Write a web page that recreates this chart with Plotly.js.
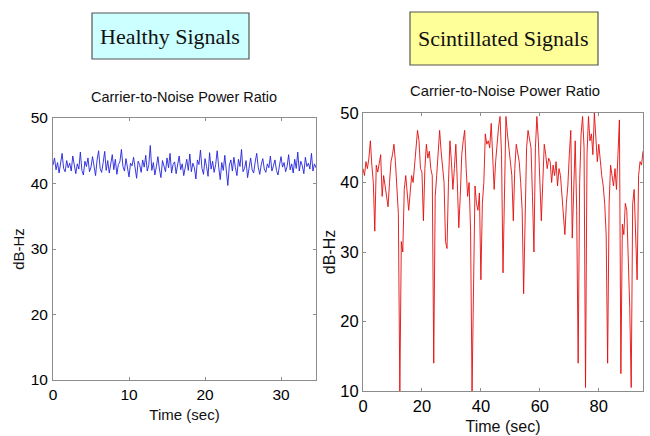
<!DOCTYPE html>
<html>
<head>
<meta charset="utf-8">
<script src="https://cdn.plot.ly/plotly-3.0.1.min.js"></script>
<style>html,body{margin:0;padding:0;background:#fff;}#chart{width:650px;height:436px;}</style>
</head>
<body>
<div id="chart"></div>
<script>
// Healthy signal: C/N0 (dB-Hz) sampled every 0.2 s from 0 to 34.6 s
const healthyStep = 0.2;
const healthyCN0 = [
  42.8, 43.9, 42.1, 43.2, 41.6, 42.9, 44.6, 42.3, 41.8, 43.5,
  42.4, 43.1, 41.9, 44.2, 42.7, 41.5, 43.0, 42.2, 44.8, 42.0,
  41.3, 43.4, 42.6, 43.9, 41.8, 42.5, 44.1, 42.9, 41.2, 43.6,
  45.0, 42.3, 41.7, 43.2, 44.9, 42.0, 43.5, 41.6, 42.8, 44.4,
  42.1, 43.7, 41.4, 42.9, 43.3, 45.2, 42.6, 41.9, 43.8, 42.4,
  41.0, 43.1, 42.7, 44.0, 42.2, 40.8, 43.4, 42.9, 41.7, 43.6,
  42.5, 44.3, 41.9, 42.8, 45.8, 42.0, 43.2, 41.3, 42.6, 44.1,
  42.2, 40.9, 43.5, 42.7, 41.8, 43.9, 42.4, 44.6, 41.6, 42.9,
  43.3, 41.5, 42.8, 44.2, 42.1, 43.0, 41.2, 42.6, 43.7, 42.0,
  44.5, 41.8, 43.1, 42.4, 40.7, 43.6, 42.9, 45.1, 42.3, 41.4,
  43.8, 42.6, 41.1, 44.7, 42.2, 43.4, 41.7, 42.9, 45.0, 42.5,
  40.6, 43.2, 42.0, 44.3, 41.5, 39.7, 42.8, 43.6, 41.9, 44.0,
  42.4, 41.2, 43.7, 42.6, 45.2, 41.8, 42.3, 43.5, 40.9, 42.7,
  43.9, 42.1, 41.6, 43.3, 44.6, 42.5, 41.4, 42.9, 43.8, 42.2,
  41.7, 43.0, 42.4, 44.2, 41.9, 42.7, 43.6, 42.0, 41.3, 42.8,
  44.1, 42.5, 43.2, 41.8, 42.6, 44.4, 42.1, 43.0, 41.6, 43.7,
  42.3, 44.8, 41.9, 43.4, 42.7, 41.5, 44.0, 42.6, 43.1, 42.2,
  44.6, 41.9, 43.0, 42.4
];

// Scintillated signal: C/N0 (dB-Hz) sampled every 0.5 s from 0 to 95 s
const scintStep = 0.5;
const scintCN0 = [
  42, 41, 43, 42, 43.5, 46, 42.5, 40, 33, 42.5,
  41.5, 43, 44, 38, 41, 39.5, 38, 36.5, 40, 43,
  44, 45.5, 43, 38.5, 35.5, 10, 31.5, 30, 39, 41,
  38, 36, 38.5, 41, 40, 43, 45, 47.5, 46, 42,
  41.5, 34.5, 42, 45.5, 43.5, 44.5, 42, 41, 14, 38,
  41, 44, 47.5, 44.5, 42.5, 40, 31.5, 30.5, 40, 46,
  43, 39, 42, 45.5, 40, 33.5, 38, 44, 46, 47.5,
  42, 38, 40, 33, 10, 22, 39.5, 37, 36, 38.5,
  26, 37, 40, 47, 45.5, 46, 45, 48.5, 44, 39,
  43, 46, 48, 49.5, 44, 27, 42, 49.5, 47, 45,
  43, 41, 34.5, 42, 45.5, 44, 43, 40, 36, 24,
  38, 45, 47.5, 46, 45, 38, 30, 45, 49.5, 46,
  41, 34.5, 40, 45.5, 44, 42, 43.5, 43, 40, 42.5,
  41, 43, 39.5, 42, 41, 38, 36, 32.5, 37, 39.5,
  44, 47.5, 32, 41, 46, 36, 14, 40, 47, 49.5,
  45, 10.5, 44, 49.5, 46, 47, 44, 50, 46, 43,
  45.5, 43, 41, 39.5, 37, 32.5, 14, 37, 42.5, 41,
  39.5, 42, 39, 44, 49, 12.5, 34, 32.5, 37, 36,
  30, 22, 10.5, 37, 39, 33, 26, 41, 43, 42.5,
  44.5
];

const titles = ["Healthy Signals", "Scintillated Signals"];
const subTitle = "Carrier-to-Noise Power Ratio";
const xTitle = "Time (sec)";
const yTitle = "dB-Hz";
const yTicks = [10, 20, 30, 40, 50];
const xTicksLeft = [0, 10, 20, 30];
const xTicksRight = [0, 20, 40, 60, 80];

const healthyTime = healthyCN0.map((_, i) => +(i * healthyStep).toFixed(2));
const scintTime = scintCN0.map((_, i) => +(i * scintStep).toFixed(2));

const traces = [
  {x: healthyTime, y: healthyCN0, type: 'scatter', mode: 'lines',
   line: {color: 'rgb(35,35,220)', width: 0.9}, xaxis: 'x', yaxis: 'y', showlegend: false},
  {x: scintTime, y: scintCN0, type: 'scatter', mode: 'lines',
   line: {color: 'rgb(228,12,12)', width: 0.9}, xaxis: 'x2', yaxis: 'y2', showlegend: false}
];

const axBase = {
  showgrid: false, zeroline: false, showline: true, mirror: 'ticks',
  linecolor: '#8c8c8c', linewidth: 1, ticks: 'inside', ticklen: 3, tickcolor: '#8c8c8c',
  automargin: false, fixedrange: true
};
const tickFontL = {family: 'Liberation Sans, Arial, sans-serif', size: 15.5, color: '#000'};
const tickFontR = {family: 'Liberation Sans, Arial, sans-serif', size: 16.5, color: '#000'};
const titleFont = {family: 'Liberation Sans, Arial, sans-serif', size: 15, color: '#111'};

const layout = {
  width: 650, height: 436,
  margin: {l: 0, r: 0, t: 0, b: 0},
  paper_bgcolor: '#fff', plot_bgcolor: '#fff',
  showlegend: false,
  xaxis: Object.assign({}, axBase, {domain: [53/650, 316/650], range: [0, 34.6],
    tickvals: xTicksLeft, tickfont: tickFontL, anchor: 'y',
    title: {text: xTitle, font: titleFont, standoff: 7}}),
  yaxis: Object.assign({}, axBase, {domain: [1 - 380/436, 1 - 118/436], range: [10, 50],
    tickvals: yTicks, tickfont: tickFontL, anchor: 'x', ticklabelstandoff: 1,
    title: {text: yTitle, font: titleFont, standoff: 2}}),
  xaxis2: Object.assign({}, axBase, {domain: [363/650, 643/650], range: [0, 95],
    tickvals: xTicksRight, tickfont: tickFontR, anchor: 'y2',
    title: {text: xTitle, font: {family: titleFont.family, size: 16, color: '#111'}, standoff: 7}}),
  yaxis2: Object.assign({}, axBase, {domain: [1 - 391/436, 1 - 113/436], range: [10, 50],
    tickvals: yTicks, tickfont: tickFontR, anchor: 'x2', ticklabelstandoff: 0,
    title: {text: yTitle, font: {family: titleFont.family, size: 16, color: '#111'}, standoff: 0}}),
  shapes: [
    {type: 'rect', xref: 'paper', yref: 'paper', x0: 92/650, x1: 249/650, y0: 1 - 59/436, y1: 1 - 13/436,
     fillcolor: '#ccffff', line: {color: '#555', width: 1.2}, layer: 'below'},
    {type: 'rect', xref: 'paper', yref: 'paper', x0: 410/650, x1: 598/650, y0: 1 - 65/436, y1: 1 - 12/436,
     fillcolor: '#ffff99', line: {color: '#555', width: 1.2}, layer: 'below'}
  ],
  annotations: [
    {text: titles[0], xref: 'paper', yref: 'paper', x: 170/650, y: 1 - 37/436, showarrow: false,
     xanchor: 'center', yanchor: 'middle', font: {family: 'Liberation Serif, Times New Roman, serif', size: 22, color: '#111'}},
    {text: titles[1], xref: 'paper', yref: 'paper', x: 504/650, y: 1 - 39/436, showarrow: false,
     xanchor: 'center', yanchor: 'middle', font: {family: 'Liberation Serif, Times New Roman, serif', size: 22, color: '#111'}},
    {text: subTitle, xref: 'paper', yref: 'paper', x: 184/650, y: 1 - 97/436, showarrow: false,
     xanchor: 'center', yanchor: 'middle', font: {family: 'Liberation Sans, Arial, sans-serif', size: 14.5, color: '#111'}},
    {text: subTitle, xref: 'paper', yref: 'paper', x: 505/650, y: 1 - 91/436, showarrow: false,
     xanchor: 'center', yanchor: 'middle', font: {family: 'Liberation Sans, Arial, sans-serif', size: 14.8, color: '#111'}}
  ]
};

Plotly.newPlot('chart', traces, layout, {staticPlot: true, displayModeBar: false});
</script>
</body>
</html>
